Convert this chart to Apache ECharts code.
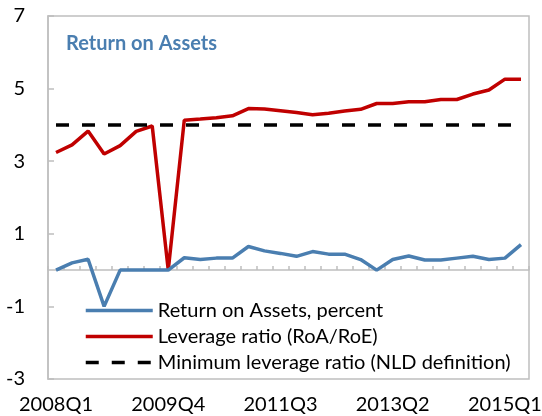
<!DOCTYPE html>
<html>
<head>
<meta charset="utf-8">
<script src="https://cdn.jsdelivr.net/npm/echarts@6/dist/echarts.min.js"></script>
<style>
  html, body { margin: 0; padding: 0; background: #fff; }
  #chart { width: 542px; height: 416px; }
</style>
</head>
<body>
<div id="chart"></div>
<script>
const quarters = [
  "2008Q1", "2008Q2", "2008Q3", "2008Q4", "2009Q1", "2009Q2", "2009Q3", "2009Q4",
  "2010Q1", "2010Q2", "2010Q3", "2010Q4", "2011Q1", "2011Q2", "2011Q3", "2011Q4",
  "2012Q1", "2012Q2", "2012Q3", "2012Q4", "2013Q1", "2013Q2", "2013Q3", "2013Q4",
  "2014Q1", "2014Q2", "2014Q3", "2014Q4", "2015Q1", "2015Q2"
]
const roa = [
  0.0, 0.2, 0.3, -1.0, 0.0, 0.0, 0.0, 0.0,
  0.34, 0.29, 0.33, 0.33, 0.65, 0.53, 0.46, 0.38,
  0.51, 0.44, 0.44, 0.29, 0.0, 0.29, 0.39, 0.28,
  0.28, 0.33, 0.38, 0.29, 0.33, 0.7
]
const leverage = [
  3.24, 3.45, 3.83, 3.2, 3.43, 3.82, 3.97, 0.0,
  4.13, 4.16, 4.2, 4.25, 4.45, 4.44, 4.39, 4.34,
  4.28, 4.32, 4.38, 4.43, 4.59, 4.59, 4.64, 4.64,
  4.7, 4.7, 4.85, 4.96, 5.26, 5.26
]
const minLeverage = [
  4, 4, 4, 4, 4, 4, 4, 4, 4, 4, 4, 4, 4, 4, 4,
  4, 4, 4, 4, 4, 4, 4, 4, 4, 4, 4, 4, 4, 4, 4
]
const yTicks = [-3, -1, 1, 3, 5, 7]
const seriesNames = [
  "Return on Assets, percent",
  "Leverage ratio (RoA/RoE)",
  "Minimum leverage ratio (NLD definition)"
]

const font = "Lato, 'Open Sans', sans-serif"
const axisGray = "#bfbfbf"
const chart = echarts.init(document.getElementById("chart"))
chart.setOption({
  animation: false,
  textStyle: { fontFamily: font },
  title: {
    text: "Return on Assets",
    left: 61,
    top: 29,
    textStyle: { color: "#4a7eb0", fontSize: 20, fontWeight: "bold", fontFamily: font }
  },
  grid: {
    left: 48,
    right: 13,
    top: 16,
    bottom: 37,
    outerBoundsMode: "none",
    show: true,
    borderColor: axisGray,
    borderWidth: 1.5
  },
  legend: {
    orient: "vertical",
    left: 79,
    top: 295,
    itemWidth: 67,
    itemHeight: 14,
    itemGap: 5,
    itemStyle: { opacity: 0 },
    lineStyle: { width: 3.5 },
    textStyle: { fontSize: 20, color: "#000", lineHeight: 21, fontFamily: font },
    data: seriesNames
  },
  xAxis: [
    {
      // quarter labels along the bottom of the plot
      type: "category",
      data: quarters,
      position: "bottom",
      boundaryGap: true,
      axisLine: { show: false, onZero: false },
      axisTick: { show: false },
      axisLabel: { interval: 6, margin: 16, fontSize: 20, color: "#000", fontFamily: font },
      splitLine: { show: false }
    },
    {
      // axis line through zero, ticks between the quarters
      type: "value",
      min: 0,
      max: quarters.length,
      interval: 1,
      position: "bottom",
      offset: -109,
      axisLine: { show: true, onZero: false, lineStyle: { color: axisGray, width: 1.5 } },
      axisTick: { show: true, inside: true, length: 4, lineStyle: { color: axisGray, width: 1.5 } },
      axisLabel: { show: false },
      splitLine: { show: false }
    }
  ],
  yAxis: {
    type: "value",
    min: -3,
    max: 7,
    axisLine: { show: true, lineStyle: { color: axisGray, width: 1.5 } },
    axisTick: { show: true, inside: true, length: 6, customValues: yTicks, lineStyle: { color: axisGray, width: 1.5 } },
    axisLabel: { customValues: yTicks, margin: 23, fontSize: 20, color: "#000", fontFamily: font },
    splitLine: { show: false }
  },
  series: [
    {
      name: seriesNames[1],
      type: "line",
      data: leverage,
      symbol: "none",
      lineStyle: { color: "#c00000", width: 3.5 },
      itemStyle: { color: "#c00000" }
    },
    {
      name: seriesNames[2],
      type: "line",
      data: minLeverage,
      symbol: "none",
      lineStyle: { color: "#000", width: 3.5, type: [13, 13] },
      itemStyle: { color: "#000" }
    },
    {
      name: seriesNames[0],
      type: "line",
      data: roa,
      symbol: "none",
      lineStyle: { color: "#4a7eb0", width: 3.5 },
      itemStyle: { color: "#4a7eb0" }
    }
  ]
})
</script>
</body>
</html>
